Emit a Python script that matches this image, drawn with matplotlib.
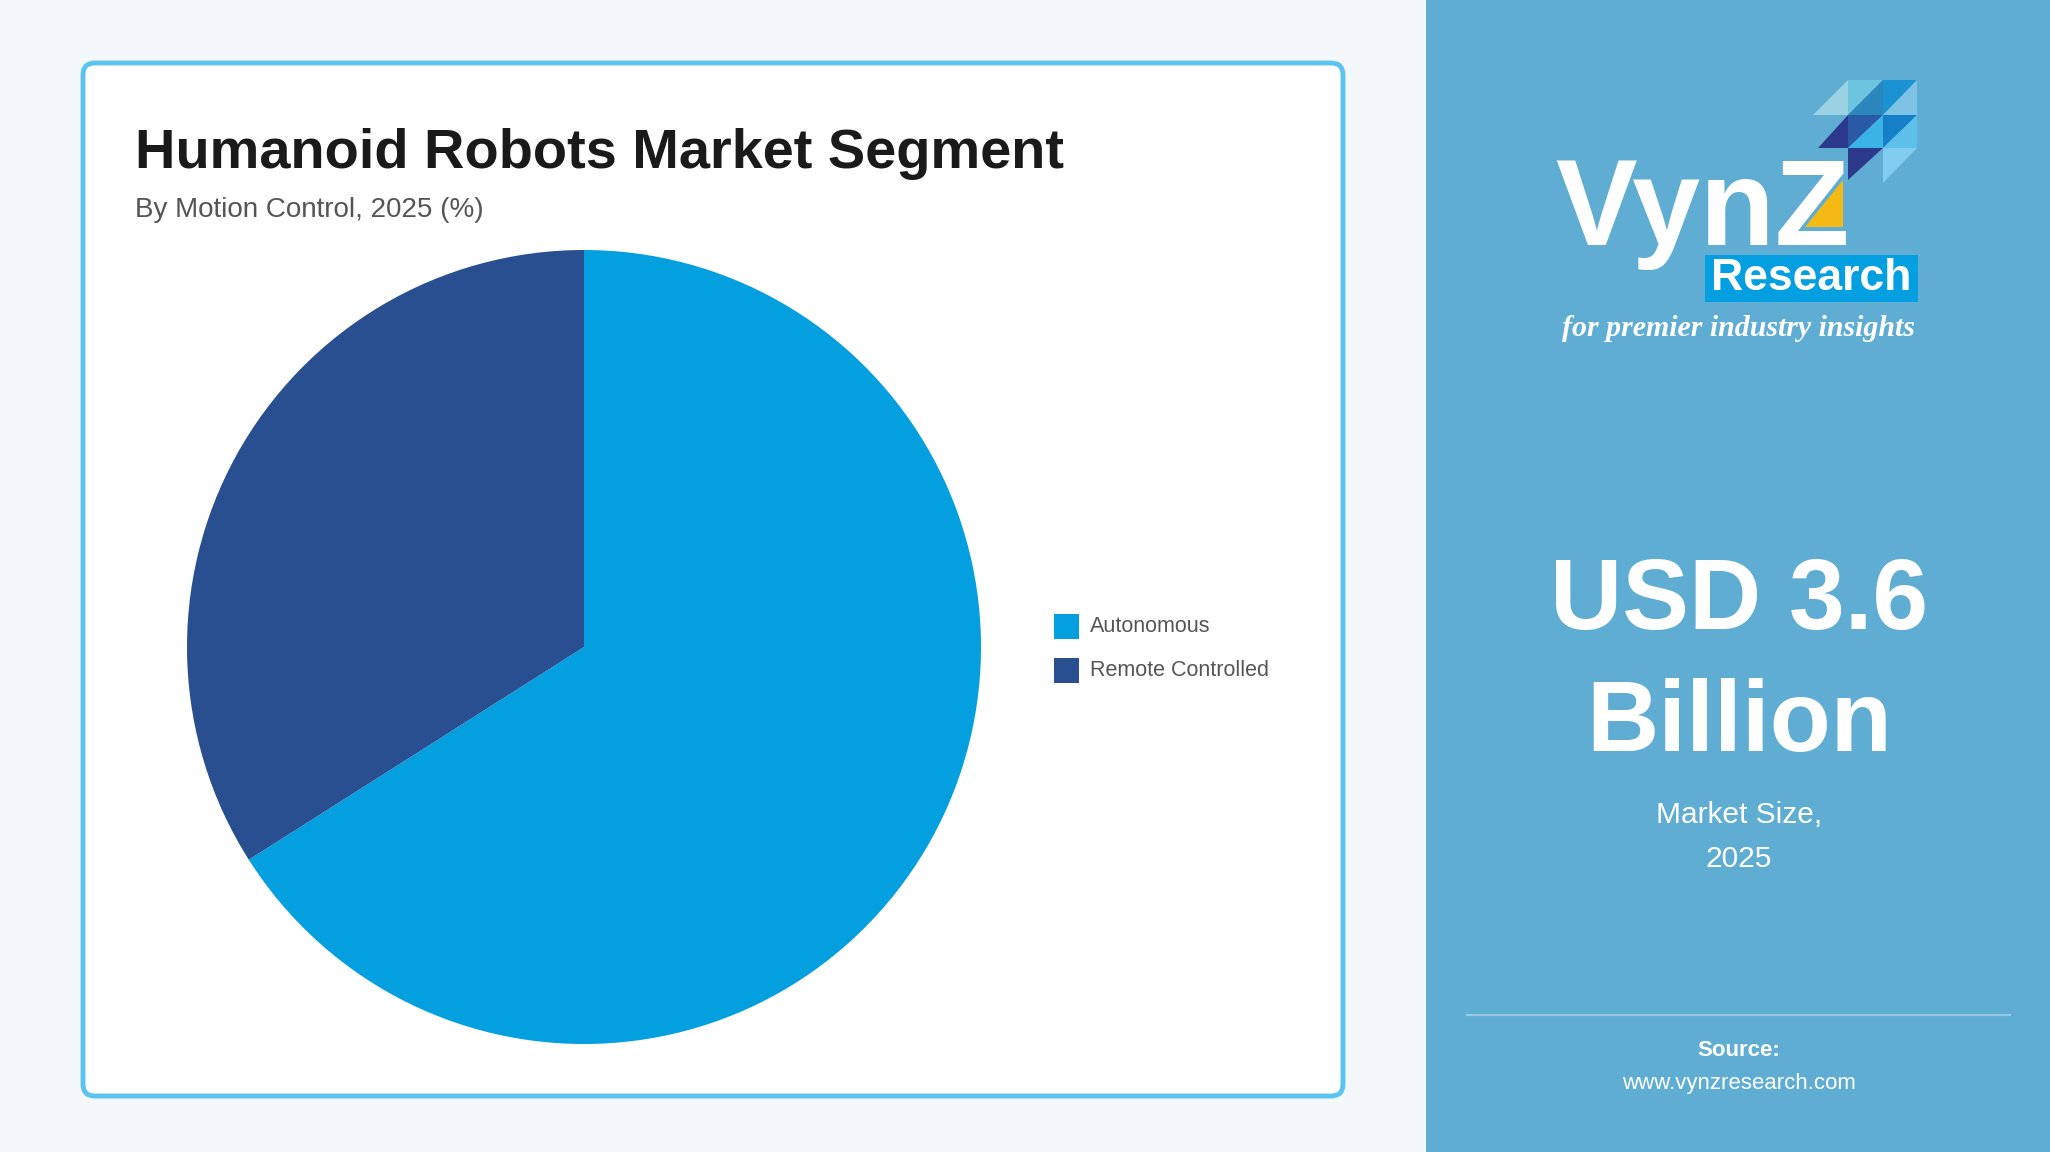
import matplotlib
matplotlib.use("Agg")
import matplotlib.pyplot as plt
from matplotlib.patches import FancyBboxPatch, Rectangle, Polygon

plt.rcParams["font.family"] = ["Liberation Sans", "DejaVu Sans"]

# ── Data ─────────────────────────────────────────────────────────────────────
SEGMENTS = ["Autonomous", "Remote Controlled"]
SHARES = [66.0, 34.0]
COLORS = ["#039fdf", "#294f91"]

TITLE = "Humanoid Robots Market Segment"
SUBTITLE = "By Motion Control, 2025 (%)"
MARKET_VALUE = ["USD 3.6", "Billion"]
MARKET_LABEL = "Market Size,\n2025"

W, H = 2050, 1152
fig = plt.figure(figsize=(W / 100, H / 100), dpi=100)
fig.patch.set_facecolor("#f4f8fb")

# ── Background canvas in pixel coordinates ───────────────────────────────────
bg = fig.add_axes([0, 0, 1, 1], zorder=0)
bg.set_xlim(0, W)
bg.set_ylim(H, 0)
bg.axis("off")

# card
bg.add_patch(FancyBboxPatch((83, 63), 1260, 1033,
                            boxstyle="round,pad=0,rounding_size=12",
                            facecolor="white", edgecolor="#5bc3ef", lw=3.5))
bg.text(135, 168, TITLE, fontsize=40.3, fontweight="bold", color="#1a1a1a",
        va="baseline", ha="left")
bg.text(135, 217, SUBTITLE, fontsize=20, color="#555555",
        va="baseline", ha="left")

# right panel
bg.add_patch(Rectangle((1426, 0), W - 1426, H, facecolor="#60add4",
                       edgecolor="none"))
bg.text(1739, 603, MARKET_VALUE[0], fontsize=72, fontweight="bold",
        color="white", ha="center", va="center")
bg.text(1739, 725, MARKET_VALUE[1], fontsize=72, fontweight="bold",
        color="white", ha="center", va="center")
bg.text(1739, 837, MARKET_LABEL, fontsize=21.5, color="white", ha="center",
        va="center", linespacing=1.7)
bg.plot([1467, 2010], [1015, 1015], color="white", alpha=0.35, lw=1.5)
bg.text(1739, 1051, "Source:", fontsize=16, fontweight="bold", color="white",
        ha="center", va="center")
bg.text(1739, 1083, "www.vynzresearch.com", fontsize=16, color="white",
        ha="center", va="center")

# logo mosaic
tris = [
    ([(1813, 115), (1848, 80), (1848, 115)], "#9bd3e2"),
    ([(1848, 80), (1883, 80), (1848, 115)], "#6cc4df"),
    ([(1883, 80), (1848, 115), (1883, 115)], "#2a86bd"),
    ([(1883, 80), (1917, 80), (1883, 115)], "#1b93d2"),
    ([(1917, 80), (1883, 115), (1917, 115)], "#7cc3e5"),
    ([(1818, 148), (1848, 115), (1848, 148)], "#2d3a8c"),
    ([(1848, 115), (1883, 115), (1848, 148)], "#2a5aa6"),
    ([(1883, 115), (1848, 148), (1883, 148)], "#3ab4e7"),
    ([(1883, 115), (1917, 115), (1883, 148)], "#1580c8"),
    ([(1917, 115), (1883, 148), (1917, 148)], "#5cc0ea"),
    ([(1848, 148), (1883, 148), (1848, 180)], "#2d3a8c"),
    ([(1883, 148), (1917, 148), (1883, 183)], "#80cbef"),
    ([(1805, 227), (1843, 227), (1843, 180)], "#f5b914"),
]
for pts, c in tris:
    bg.add_patch(Polygon(pts, closed=True, facecolor=c, edgecolor="none"))
bg.text(1555, 245, "VynZ", fontsize=88, fontweight="bold", color="white",
        ha="left", va="baseline")
bg.add_patch(Rectangle((1705, 255), 213, 47, facecolor="#039fe0",
                       edgecolor="none", zorder=2))
bg.text(1811, 279, "Research", fontsize=32, fontweight="bold", color="white",
        ha="center", va="center", zorder=3)
bg.text(1738, 328, "for premier industry insights", fontsize=21.5,
        fontstyle="italic", fontweight="bold", family="Liberation Serif",
        color="white", ha="center", va="center")

# ── Pie ──────────────────────────────────────────────────────────────────────
cx, cy, r = 584, 647, 397
ax = fig.add_axes([(cx - r) / W, (H - cy - r) / H, 2 * r / W, 2 * r / H],
                  zorder=1)
ax.pie(SHARES, colors=COLORS, startangle=90, counterclock=False,
       wedgeprops=dict(linewidth=0))
ax.set_xlim(-1, 1)
ax.set_ylim(-1, 1)
ax.set_aspect("equal")
ax.axis("off")

# legend
for i, (name, c) in enumerate(zip(SEGMENTS, COLORS)):
    y = 626 + i * 44
    bg.add_patch(Rectangle((1054, y - 12.5), 25, 25, facecolor=c,
                           edgecolor="none", zorder=3))
    bg.text(1090, y, name, fontsize=15.5, color="#555555", ha="left",
            va="center", zorder=3)

fig.savefig("out.png", dpi=100, facecolor=fig.get_facecolor())
